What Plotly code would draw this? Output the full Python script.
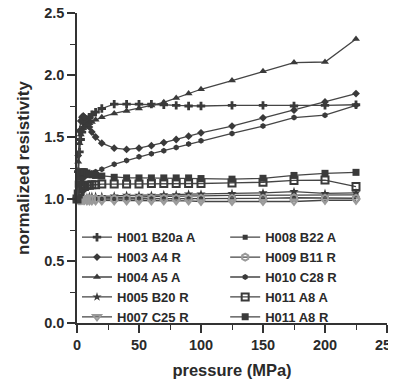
import plotly.graph_objects as go

# pressure (MPa)
pressure = [0, 1, 2, 3, 4, 5, 6, 8, 10, 12, 15, 20, 30, 40, 50, 60, 70, 80, 90, 100, 125, 150, 175, 200, 225]

h001_b20a_a = [1.00, 1.22, 1.38, 1.48, 1.54, 1.58, 1.61, 1.64, 1.66, 1.68, 1.70, 1.73, 1.765, 1.765, 1.765, 1.765, 1.76, 1.755, 1.75, 1.75, 1.755, 1.755, 1.75, 1.755, 1.76]
h003_a4_r = [1.00, 1.35, 1.55, 1.63, 1.66, 1.67, 1.66, 1.62, 1.58, 1.54, 1.50, 1.45, 1.41, 1.40, 1.41, 1.43, 1.455, 1.48, 1.507, 1.534, 1.588, 1.655, 1.716, 1.783, 1.85]
h004_a5_a = [1.00, 1.30, 1.45, 1.52, 1.55, 1.57, 1.58, 1.60, 1.61, 1.62, 1.64, 1.66, 1.69, 1.71, 1.73, 1.755, 1.78, 1.815, 1.85, 1.885, 1.955, 2.03, 2.10, 2.105, 2.29]
h005_b20_r = [1.00, 1.00, 1.01, 1.01, 1.01, 1.01, 1.01, 1.01, 1.02, 1.02, 1.02, 1.02, 1.025, 1.03, 1.03, 1.03, 1.035, 1.035, 1.04, 1.04, 1.045, 1.05, 1.06, 1.045, 1.05]
h007_c25_r = [1.00, 0.99, 0.99, 0.99, 0.99, 0.99, 0.99, 0.985, 0.985, 0.985, 0.985, 0.985, 0.985, 0.985, 0.985, 0.985, 0.985, 0.985, 0.985, 0.98, 0.98, 0.98, 0.98, 0.99, 0.99]
h008_b22_a = [1.00, 1.00, 1.00, 1.00, 1.005, 1.005, 1.005, 1.005, 1.01, 1.01, 1.01, 1.01, 1.01, 1.015, 1.015, 1.02, 1.02, 1.02, 1.02, 1.025, 1.03, 1.03, 1.033, 1.035, 1.033]
h009_b11_r = [1.00, 1.00, 1.00, 1.00, 1.00, 1.00, 1.00, 1.00, 1.00, 1.00, 1.00, 1.00, 1.00, 1.005, 1.005, 1.005, 1.005, 1.005, 1.005, 1.005, 1.005, 1.005, 1.01, 1.006, 1.006]
h010_c28_r = [1.00, 1.06, 1.10, 1.13, 1.15, 1.17, 1.18, 1.19, 1.20, 1.21, 1.22, 1.24, 1.28, 1.31, 1.34, 1.365, 1.39, 1.415, 1.443, 1.47, 1.529, 1.588, 1.657, 1.676, 1.756]
h011_a8_a = [1.00, 1.04, 1.06, 1.08, 1.09, 1.10, 1.10, 1.11, 1.11, 1.115, 1.115, 1.12, 1.12, 1.12, 1.12, 1.125, 1.125, 1.125, 1.125, 1.125, 1.13, 1.135, 1.15, 1.153, 1.10]
h011_a8_r = [1.00, 1.12, 1.18, 1.21, 1.22, 1.22, 1.22, 1.21, 1.20, 1.195, 1.19, 1.185, 1.175, 1.17, 1.17, 1.17, 1.17, 1.17, 1.17, 1.165, 1.16, 1.167, 1.19, 1.207, 1.215]

x_ticks = [0, 50, 100, 150, 200, 250]
y_ticks = [0.0, 0.5, 1.0, 1.5, 2.0, 2.5]

DARK = "#3a3a3a"
LIGHT = "#9a9a9a"
FONT = "Liberation Sans"

series = [
    # name, values, symbol, size, color, legend
    ("H001 B20a A", h001_b20a_a, "cross", 7, DARK, "legend"),
    ("H003 A4 R", h003_a4_r, "diamond", 6, DARK, "legend"),
    ("H004 A5 A", h004_a5_a, "triangle-up", 7, DARK, "legend"),
    ("H005 B20 R", h005_b20_r, "star", 7, DARK, "legend"),
    ("H007 C25 R", h007_c25_r, "triangle-down-open", 7, LIGHT, "legend"),
    ("H008 B22 A", h008_b22_a, "square", 5, DARK, "legend2"),
    ("H009 B11 R", h009_b11_r, "hexagon-open", 7, LIGHT, "legend2"),
    ("H010 C28 R", h010_c28_r, "hexagon", 6, DARK, "legend2"),
    ("H011 A8 A", h011_a8_a, "square-open", 7, DARK, "legend2"),
    ("H011 A8 R", h011_a8_r, "square", 7, DARK, "legend2"),
]

fig = go.Figure()
for name, vals, sym, size, col, leg in series:
    mline = dict(width=2 if "open" in sym else 0, color=col)
    fig.add_trace(go.Scatter(
        x=pressure, y=vals, name=name, mode="lines+markers",
        line=dict(color="#454545", width=1.3),
        marker=dict(symbol=sym, size=size, color=col, line=mline),
        cliponaxis=False, legend=leg,
    ))

axis_common = dict(
    showline=True, linecolor="#333", linewidth=1.5, showgrid=False, zeroline=False,
    ticks="outside", ticklen=8, tickwidth=1.5, tickcolor="#333",
    tickfont=dict(family=FONT, size=14.5, color="#2a2a2a", weight="bold"),
    minor=dict(ticks="outside", ticklen=5, tickwidth=1.2, tickcolor="#333"),
    ticklabeloverflow="allow", automargin=False,
)

fig.update_xaxes(
    range=[0, 250], tickvals=x_ticks, ticktext=[str(v) for v in x_ticks],
    minor_dtick=25,
    title=dict(text="pressure (MPa)", font=dict(family=FONT, size=16.5, color="#2a2a2a", weight="bold"), standoff=12),
    **axis_common,
)
fig.update_yaxes(
    range=[0, 2.5], tickvals=y_ticks, ticktext=[f"{v:.1f}" for v in y_ticks],
    minor_dtick=0.25,
    title=dict(text="normalized resistivity", font=dict(family=FONT, size=17, color="#2a2a2a", weight="bold"), standoff=10),
    **axis_common,
)

legend_font = dict(family=FONT, size=13, color="#2a2a2a", weight="bold")
fig.update_layout(
    width=388, height=373,
    margin=dict(l=69, r=9, t=5, b=58, autoexpand=False),
    paper_bgcolor="white", plot_bgcolor="white",
    legend=dict(x=0.0, y=0.325, xanchor="left", yanchor="top", font=legend_font,
                bgcolor="rgba(0,0,0,0)", tracegroupgap=0),
    legend2=dict(x=0.478, y=0.325, xanchor="left", yanchor="top", font=legend_font,
                 bgcolor="rgba(0,0,0,0)", tracegroupgap=0),
)

fig.write_html("out.html")
